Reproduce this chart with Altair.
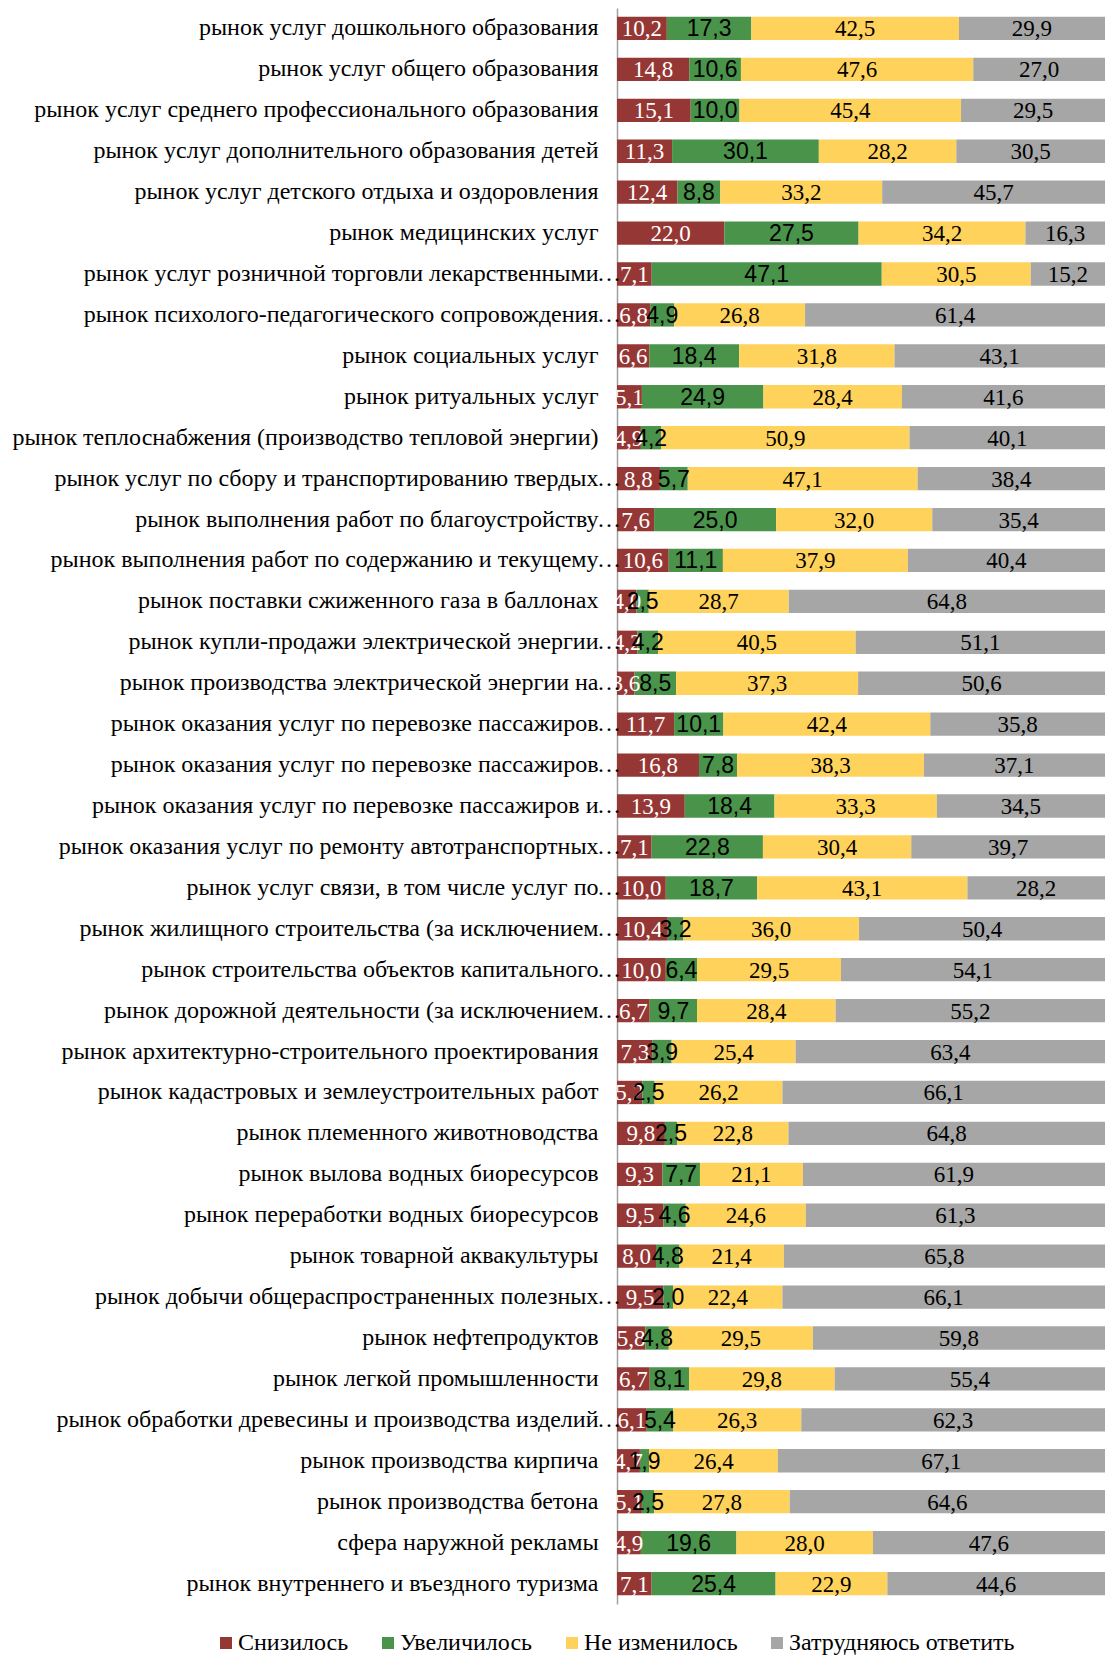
import json
import altair as alt
import pandas as pd

categories = [
    "рынок услуг дошкольного образования",
    "рынок услуг общего образования",
    "рынок услуг среднего профессионального образования",
    "рынок услуг дополнительного образования детей",
    "рынок услуг детского отдыха и оздоровления",
    "рынок медицинских услуг",
    "рынок услуг розничной торговли лекарственными…",
    "рынок психолого-педагогического сопровождения…",
    "рынок социальных услуг",
    "рынок ритуальных услуг",
    "рынок теплоснабжения (производство тепловой энергии)",
    "рынок услуг по сбору и транспортированию твердых…",
    "рынок выполнения работ по благоустройству…",
    "рынок выполнения работ по содержанию и текущему…",
    "рынок поставки сжиженного газа в баллонах",
    "рынок купли-продажи электрической энергии…",
    "рынок производства электрической энергии на…",
    "рынок оказания услуг по перевозке пассажиров…",
    "рынок оказания услуг по перевозке пассажиров…",
    "рынок оказания услуг по перевозке пассажиров и…",
    "рынок оказания услуг по ремонту автотранспортных…",
    "рынок услуг связи, в том числе услуг по…",
    "рынок жилищного строительства (за исключением…",
    "рынок строительства объектов капитального…",
    "рынок дорожной деятельности (за исключением…",
    "рынок архитектурно-строительного проектирования",
    "рынок кадастровых и землеустроительных работ",
    "рынок племенного животноводства",
    "рынок вылова водных биоресурсов",
    "рынок переработки водных биоресурсов",
    "рынок товарной аквакультуры",
    "рынок добычи общераспространенных полезных…",
    "рынок нефтепродуктов",
    "рынок легкой промышленности",
    "рынок обработки древесины и производства изделий…",
    "рынок производства кирпича",
    "рынок производства бетона",
    "сфера наружной рекламы",
    "рынок внутреннего и въездного туризма",
]

snizilos = [10.2, 14.8, 15.1, 11.3, 12.4, 22.0, 7.1, 6.8, 6.6, 5.1, 4.9, 8.8, 7.6, 10.6,
            4.0, 4.2, 3.6, 11.7, 16.8, 13.9, 7.1, 10.0, 10.4, 10.0, 6.7, 7.3, 5.2, 9.8,
            9.3, 9.5, 8.0, 9.5, 5.8, 6.7, 6.1, 4.7, 5.1, 4.9, 7.1]
uvelichilos = [17.3, 10.6, 10.0, 30.1, 8.8, 27.5, 47.1, 4.9, 18.4, 24.9, 4.2, 5.7, 25.0, 11.1,
               2.5, 4.2, 8.5, 10.1, 7.8, 18.4, 22.8, 18.7, 3.2, 6.4, 9.7, 3.9, 2.5, 2.5,
               7.7, 4.6, 4.8, 2.0, 4.8, 8.1, 5.4, 1.9, 2.5, 19.6, 25.4]
ne_izmenilos = [42.5, 47.6, 45.4, 28.2, 33.2, 34.2, 30.5, 26.8, 31.8, 28.4, 50.9, 47.1, 32.0, 37.9,
                28.7, 40.5, 37.3, 42.4, 38.3, 33.3, 30.4, 43.1, 36.0, 29.5, 28.4, 25.4, 26.2, 22.8,
                21.1, 24.6, 21.4, 22.4, 29.5, 29.8, 26.3, 26.4, 27.8, 28.0, 22.9]
zatrudnyayus = [29.9, 27.0, 29.5, 30.5, 45.7, 16.3, 15.2, 61.4, 43.1, 41.6, 40.1, 38.4, 35.4, 40.4,
                64.8, 51.1, 50.6, 35.8, 37.1, 34.5, 39.7, 28.2, 50.4, 54.1, 55.2, 63.4, 66.1, 64.8,
                61.9, 61.3, 65.8, 66.1, 59.8, 55.4, 62.3, 67.1, 64.6, 47.6, 44.6]

series_names = ["Снизилось", "Увеличилось", "Не изменилось", "Затрудняюсь ответить"]
series_values = [snizilos, uvelichilos, ne_izmenilos, zatrudnyayus]
colors = ["#953735", "#4A934A", "#FFD25C", "#A6A6A6"]

SERIF = "Liberation Serif, Times New Roman, serif"
SANS = "Liberation Sans, Arial, sans-serif"

rows = []
for i, cat in enumerate(categories):
    vals = [s[i] for s in series_values]
    total = sum(vals)
    start = 0.0
    for k, (name, v) in enumerate(zip(series_names, vals)):
        share = v / total * 100.0
        rows.append(dict(idx=i, series=name, x0=start, x1=start + share,
                         mid=start + share / 2, label=f"{v:.1f}".replace(".", ",")))
        start += share
df = pd.DataFrame(rows)

# category labels: body text on the axis, trailing ellipsis drawn separately
body_labels = [c[:-1] if c.endswith("…") else c for c in categories]
ell_df = pd.DataFrame([dict(idx=i, ell="…") for i, c in enumerate(categories) if c.endswith("…")])
label_expr = json.dumps(body_labels, ensure_ascii=False) + "[datum.value]"

y_enc = alt.Y(
    "idx:O",
    title=None,
    scale=alt.Scale(paddingInner=0.43, paddingOuter=0.215),
    axis=alt.Axis(
        labelExpr=label_expr,
        labelFont=SERIF,
        labelFontSize=24,
        labelColor="#000000",
        labelLimit=800,
        labelPadding=19,
        ticks=False,
        domainColor="#A0A0A0",
        domainWidth=1.5,
        grid=False,
    ),
)
x_scale = alt.Scale(domain=[0, 100], nice=False, zero=True)

base = alt.Chart(df)

bars = base.mark_bar().encode(
    y=y_enc,
    x=alt.X("x0:Q", scale=x_scale, axis=None),
    x2="x1:Q",
    color=alt.Color(
        "series:N",
        scale=alt.Scale(domain=series_names, range=colors),
        legend=alt.Legend(
            title=None,
            orient="none",
            legendX=-403,
            legendY=1623,
            direction="horizontal",
            columns=4,
            symbolType="square",
            symbolSize=144,
            symbolStrokeWidth=0,
            labelFont=SERIF,
            labelFontSize=24,
            labelColor="#000000",
            labelOffset=0,
            columnPadding=27,
            padding=0,
            labelLimit=400,
        ),
    ),
)

ellipsis = alt.Chart(ell_df).mark_text(
    font=SERIF, fontSize=24, color="#000000", align="left", baseline="middle", dx=-20
).encode(y=y_enc, x=alt.value(0), text="ell:N")


def text_layer(series, color, font):
    return (
        base.transform_filter(alt.datum.series == series)
        .mark_text(font=font, fontSize=23, color=color, align="center", baseline="middle", dy=1)
        .encode(y=y_enc, x=alt.X("mid:Q", scale=x_scale, axis=None), text="label:N")
    )


chart = alt.layer(
    bars,
    text_layer(series_names[0], "#FFFFFF", SERIF),
    text_layer(series_names[1], "#000000", SANS),
    text_layer(series_names[2], "#000000", SERIF),
    text_layer(series_names[3], "#000000", SERIF),
    ellipsis,
).properties(
    width=488,
    height=1596,
    autosize=alt.AutoSizeParams(type="none"),
    padding={"left": 609, "top": 0, "right": 0, "bottom": 52},
).configure_view(stroke=None)

chart.save("out.html", embed_options={"renderer": "svg", "actions": False})
